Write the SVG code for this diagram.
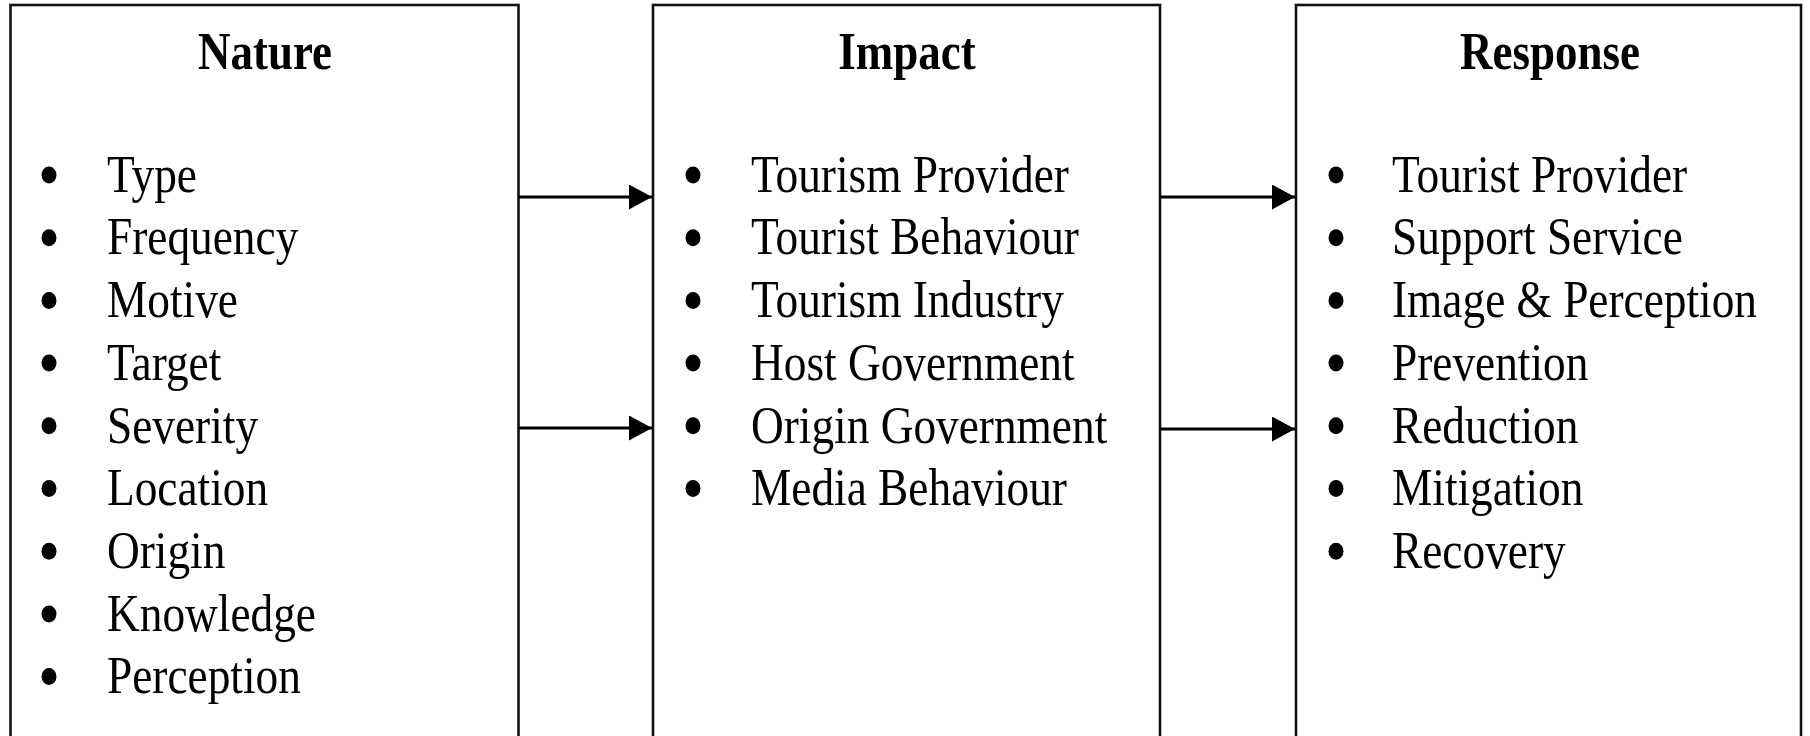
<svg xmlns="http://www.w3.org/2000/svg" width="1810" height="736" viewBox="0 0 1810 736">
<style>
.box{fill:none;stroke:#111;stroke-width:2.6}
.title{font-family:"Liberation Serif","Times New Roman",serif;font-weight:bold;font-size:52px;fill:#000;text-anchor:middle}
.item{font-family:"Liberation Serif","Times New Roman",serif;font-size:52px;fill:#000}
.bul{fill:#000}
.conn{stroke:#000;stroke-width:3.2;fill:none}
</style>
<defs>
<marker id="ah" markerUnits="userSpaceOnUse" markerWidth="26" markerHeight="26" refX="23" refY="12.5" orient="auto">
<path d="M0,0 L23,12.5 L0,25 Z" fill="#000"/>
</marker>
<ellipse id="b" cx="0" cy="0" rx="7.5" ry="8.5" class="bul"/>
</defs>
<rect width="1810" height="736" fill="#fff"/>
<g id="nature">
<rect class="box" x="10.5" y="5" width="508" height="760"/>
<text class="title" transform="translate(265,69) scale(0.865,1)">Nature</text>
<g>
<use href="#b" x="49" y="175"/><text class="item" transform="translate(107,191.7) scale(0.872,1)">Type</text>
<use href="#b" x="49" y="237.7"/><text class="item" transform="translate(107,254.4) scale(0.872,1)">Frequency</text>
<use href="#b" x="49" y="300.4"/><text class="item" transform="translate(107,317.1) scale(0.872,1)">Motive</text>
<use href="#b" x="49" y="363.1"/><text class="item" transform="translate(107,379.8) scale(0.872,1)">Target</text>
<use href="#b" x="49" y="425.8"/><text class="item" transform="translate(107,442.5) scale(0.872,1)">Severity</text>
<use href="#b" x="49" y="488.5"/><text class="item" transform="translate(107,505.2) scale(0.872,1)">Location</text>
<use href="#b" x="49" y="551.2"/><text class="item" transform="translate(107,567.9) scale(0.872,1)">Origin</text>
<use href="#b" x="49" y="613.9"/><text class="item" transform="translate(107,630.6) scale(0.872,1)">Knowledge</text>
<use href="#b" x="49" y="676.6"/><text class="item" transform="translate(107,693.3) scale(0.872,1)">Perception</text>
</g>
</g>
<g id="impact">
<rect class="box" x="653" y="5" width="507" height="760"/>
<text class="title" transform="translate(907,69) scale(0.865,1)">Impact</text>
<g>
<use href="#b" x="693" y="175"/><text class="item" transform="translate(751,191.7) scale(0.872,1)">Tourism Provider</text>
<use href="#b" x="693" y="237.7"/><text class="item" transform="translate(751,254.4) scale(0.872,1)">Tourist Behaviour</text>
<use href="#b" x="693" y="300.4"/><text class="item" transform="translate(751,317.1) scale(0.872,1)">Tourism Industry</text>
<use href="#b" x="693" y="363.1"/><text class="item" transform="translate(751,379.8) scale(0.872,1)">Host Government</text>
<use href="#b" x="693" y="425.8"/><text class="item" transform="translate(751,442.5) scale(0.872,1)">Origin Government</text>
<use href="#b" x="693" y="488.5"/><text class="item" transform="translate(751,505.2) scale(0.872,1)">Media Behaviour</text>
</g>
</g>
<g id="response">
<rect class="box" x="1296" y="5" width="505" height="760"/>
<text class="title" transform="translate(1550,69) scale(0.865,1)">Response</text>
<g>
<use href="#b" x="1336" y="175"/><text class="item" transform="translate(1392,191.7) scale(0.872,1)">Tourist Provider</text>
<use href="#b" x="1336" y="237.7"/><text class="item" transform="translate(1392,254.4) scale(0.872,1)">Support Service</text>
<use href="#b" x="1336" y="300.4"/><text class="item" transform="translate(1392,317.1) scale(0.872,1)">Image &amp; Perception</text>
<use href="#b" x="1336" y="363.1"/><text class="item" transform="translate(1392,379.8) scale(0.872,1)">Prevention</text>
<use href="#b" x="1336" y="425.8"/><text class="item" transform="translate(1392,442.5) scale(0.872,1)">Reduction</text>
<use href="#b" x="1336" y="488.5"/><text class="item" transform="translate(1392,505.2) scale(0.872,1)">Mitigation</text>
<use href="#b" x="1336" y="551.2"/><text class="item" transform="translate(1392,567.9) scale(0.872,1)">Recovery</text>
</g>
</g>
<g id="connectors">
<line class="conn" x1="518" y1="197" x2="652" y2="197" marker-end="url(#ah)"/>
<line class="conn" x1="518" y1="428" x2="652" y2="428" marker-end="url(#ah)"/>
<line class="conn" x1="1160" y1="197" x2="1295" y2="197" marker-end="url(#ah)"/>
<line class="conn" x1="1160" y1="429" x2="1295" y2="429" marker-end="url(#ah)"/>
</g>
</svg>
